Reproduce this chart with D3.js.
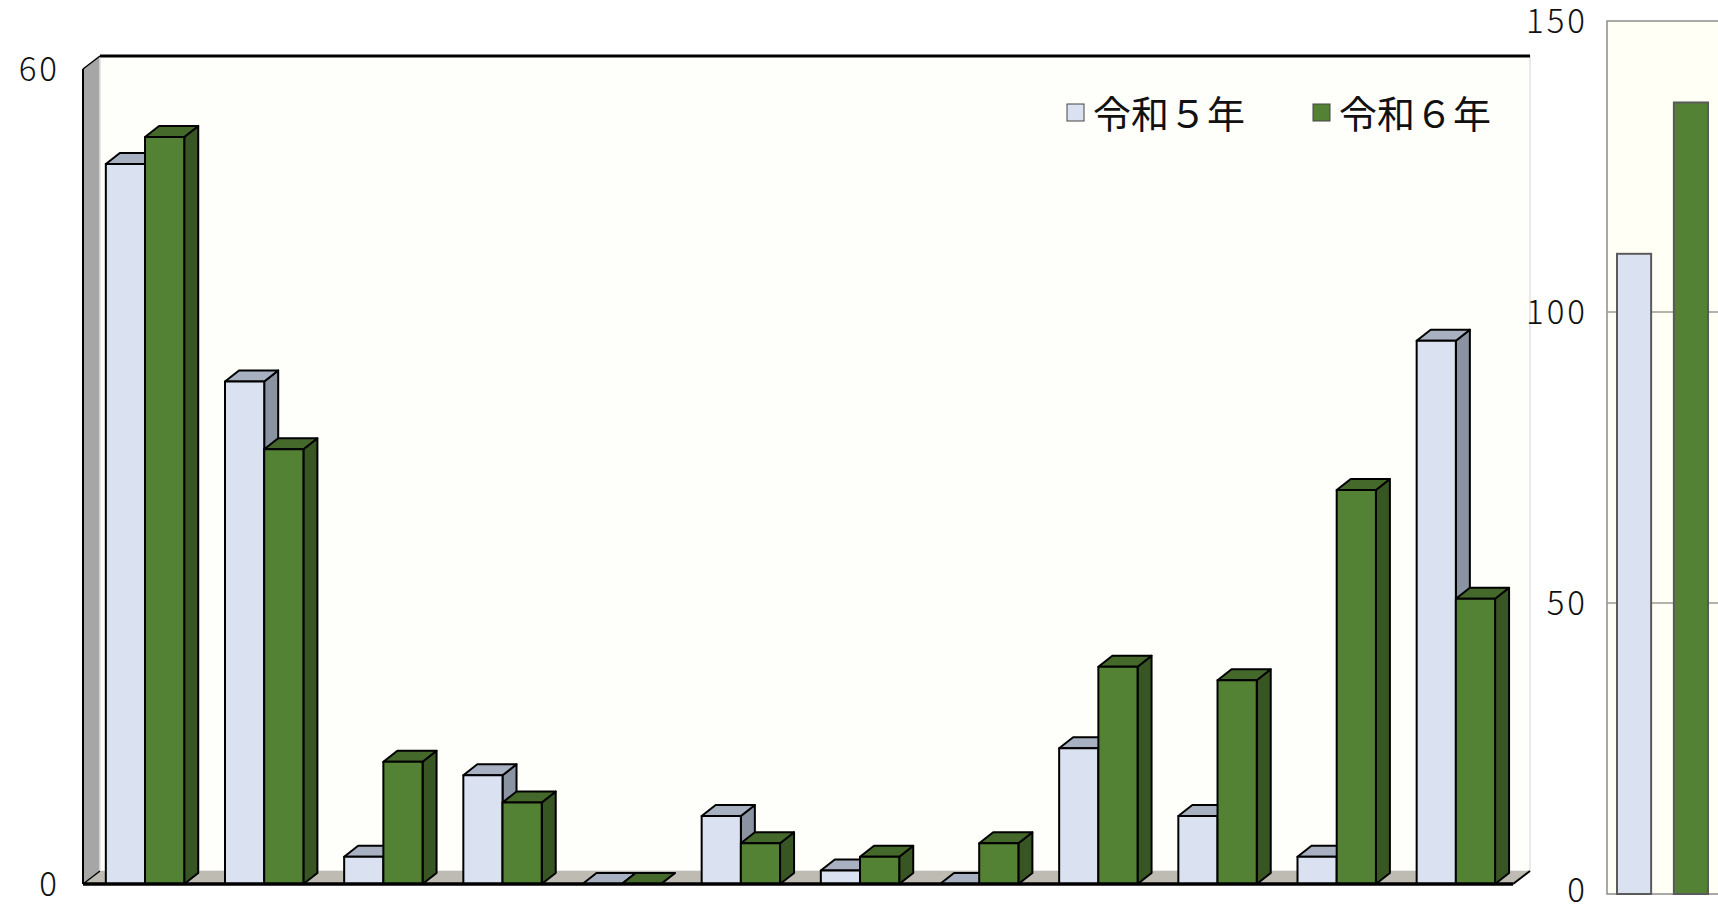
<!DOCTYPE html>
<html lang="ja">
<head>
<meta charset="utf-8" />
<title>令和5年・令和6年</title>
<script src="https://cdn.jsdelivr.net/npm/d3@7"></script>
<style>
  body { margin: 0; background: #fff; }
  text { font-family: "Noto Sans CJK JP", "DejaVu Sans", sans-serif; fill: #111; }
  .tick-label { font-size: 33px; font-weight: 300; letter-spacing: 3px; }
  .legend-label { font-size: 38px; font-weight: 400; }
  .bar-line { stroke: #000; stroke-width: 2px; stroke-linejoin: round; }
</style>
</head>
<body>
<script>
  // data
  var categories = ["1", "2", "3", "4", "5", "6", "7", "8", "9", "10", "11", "12"];
  var series = ["令和５年", "令和６年"];
  var r5 = [53, 37, 2, 8, 0, 5, 1, 0, 10, 5, 2, 40];
  var r6 = [55, 32, 9, 6, 0, 3, 2, 3, 16, 15, 29, 21];
  var totals = [110, 136];
  var leftTicks = [0, 60];
  var rightTicks = [0, 50, 100, 150];

  var w = 1718, h = 906;
  var front = { left: 83, right: 1513, top: 69, bottom: 884 };
  var wallDx = 17, wallDy = -13;
  var barDx = 14, barDy = -11;

  var colors = {
    face: ["#dae1f1", "#548235"],
    top: ["#a8b1c1", "#44692b"],
    side: ["#8a93a2", "#385623"]
  };

  var svg = d3.select("body").append("svg")
    .attr("width", w)
    .attr("height", h);

  var yScale = d3.scaleLinear()
    .domain([0, 60])
    .range([front.bottom, front.top]);

  var xCat = d3.scaleBand()
    .domain(categories)
    .range([front.left, front.right]);

  var xSer = d3.scaleBand()
    .domain(series)
    .range([0, xCat.bandwidth()])
    .paddingOuter(0.52)
    .align(0.56);

  // walls
  svg.append("polygon")
    .attr("points", [[front.left, front.top], [front.left + wallDx, front.top + wallDy],
      [front.left + wallDx, front.bottom + wallDy], [front.left, front.bottom]].join(" "))
    .attr("fill", "#a6a6a6");

  svg.append("rect")
    .attr("x", front.left + wallDx)
    .attr("y", front.top + wallDy)
    .attr("width", front.right - front.left)
    .attr("height", front.bottom - front.top)
    .attr("fill", "#fefefa")
    .attr("stroke", "#e2e2e2")
    .attr("stroke-width", 1.5);

  svg.append("polygon")
    .attr("points", [[front.left, front.bottom], [front.left + wallDx, front.bottom + wallDy],
      [front.right + wallDx, front.bottom + wallDy], [front.right, front.bottom]].join(" "))
    .attr("fill", "#bdbbb2");

  svg.append("line")
    .attr("x1", front.left + wallDx).attr("x2", front.right + wallDx)
    .attr("y1", front.top + wallDy).attr("y2", front.top + wallDy)
    .attr("stroke", "#000").attr("stroke-width", 3);

  svg.append("line")
    .attr("x1", front.left).attr("x2", front.left + wallDx)
    .attr("y1", front.top).attr("y2", front.top + wallDy)
    .attr("stroke", "#000").attr("stroke-width", 1.5);

  svg.append("line")
    .attr("x1", front.right).attr("x2", front.right + wallDx)
    .attr("y1", front.bottom).attr("y2", front.bottom + wallDy)
    .attr("stroke", "#000").attr("stroke-width", 2);

  svg.append("line")
    .attr("x1", front.left + wallDx).attr("x2", front.left)
    .attr("y1", front.bottom + wallDy).attr("y2", front.bottom)
    .attr("stroke", "#000").attr("stroke-width", 1.5);

  // bars
  var barData = [];
  categories.forEach(function(c, i) {
    barData.push({ cat: c, s: 0, v: r5[i] });
    barData.push({ cat: c, s: 1, v: r6[i] });
  });

  var bw = xSer.bandwidth();
  var bars = svg.append("g").selectAll("g")
    .data(barData)
    .enter()
    .append("g");

  bars.each(function(d) {
    var g = d3.select(this);
    var x0 = xCat(d.cat) + xSer(series[d.s]);
    var x1 = x0 + bw;
    var yt = yScale(d.v);
    var yb = yScale(0);

    g.append("polygon")
      .attr("class", "bar-line")
      .attr("fill", colors.side[d.s])
      .attr("points", [[x1, yt], [x1 + barDx, yt + barDy], [x1 + barDx, yb + barDy], [x1, yb]].join(" "));

    g.append("polygon")
      .attr("class", "bar-line")
      .attr("fill", colors.top[d.s])
      .attr("points", [[x0, yt], [x0 + barDx, yt + barDy], [x1 + barDx, yt + barDy], [x1, yt]].join(" "));

    if (d.v > 0) {
      g.append("rect")
        .attr("class", "bar-line")
        .attr("fill", colors.face[d.s])
        .attr("x", x0)
        .attr("y", yt)
        .attr("width", bw)
        .attr("height", yb - yt);
    }
  });

  // front axis lines
  svg.append("line")
    .attr("x1", front.left).attr("x2", front.left)
    .attr("y1", front.top).attr("y2", front.bottom)
    .attr("stroke", "#000").attr("stroke-width", 2);

  svg.append("line")
    .attr("x1", front.left).attr("x2", front.right)
    .attr("y1", front.bottom).attr("y2", front.bottom)
    .attr("stroke", "#000").attr("stroke-width", 3.5);

  svg.selectAll(".left-tick")
    .data(leftTicks)
    .enter()
    .append("text")
    .attr("class", "tick-label")
    .attr("text-anchor", "end")
    .attr("x", 60)
    .attr("y", function(d) { return yScale(d) + 12; })
    .text(function(d) { return d; });

  // legend
  var legendX = [1067, 1313];
  series.forEach(function(s, i) {
    svg.append("rect")
      .attr("x", legendX[i])
      .attr("y", 104)
      .attr("width", 17)
      .attr("height", 17)
      .attr("fill", colors.face[i])
      .attr("stroke", "#444")
      .attr("stroke-width", 1);
    svg.append("text")
      .attr("class", "legend-label")
      .attr("x", legendX[i] + 26)
      .attr("y", 128)
      .text(s);
  });

  // right panel: totals
  var yR = d3.scaleLinear()
    .domain([0, 150])
    .range([894, 21]);

  var xR = d3.scaleBand()
    .domain(series)
    .range([1617, 1708])
    .paddingInner(0.4);

  svg.append("rect")
    .attr("x", 1607)
    .attr("y", yR(150))
    .attr("width", 140)
    .attr("height", yR(0) - yR(150))
    .attr("fill", "#fffff5")
    .attr("stroke", "#8c8c8c")
    .attr("stroke-width", 1.5);

  svg.selectAll(".grid-r")
    .data([50, 100])
    .enter()
    .append("line")
    .attr("x1", 1607).attr("x2", 1718)
    .attr("y1", function(d) { return yR(d); })
    .attr("y2", function(d) { return yR(d); })
    .attr("stroke", "#999")
    .attr("stroke-width", 1.5);

  svg.selectAll(".bar-r")
    .data(totals)
    .enter()
    .append("rect")
    .attr("x", function(d, i) { return xR(series[i]); })
    .attr("y", function(d) { return yR(d); })
    .attr("width", xR.bandwidth())
    .attr("height", function(d) { return yR(0) - yR(d); })
    .attr("fill", function(d, i) { return colors.face[i]; })
    .attr("stroke", "#5a5a5a")
    .attr("stroke-width", 2);

  svg.selectAll(".right-tick")
    .data(rightTicks)
    .enter()
    .append("text")
    .attr("class", "tick-label")
    .attr("text-anchor", "end")
    .attr("x", 1588)
    .attr("y", function(d) { return Math.min(yR(d) + 12, 902); })
    .text(function(d) { return d; });
</script>
</body>
</html>
